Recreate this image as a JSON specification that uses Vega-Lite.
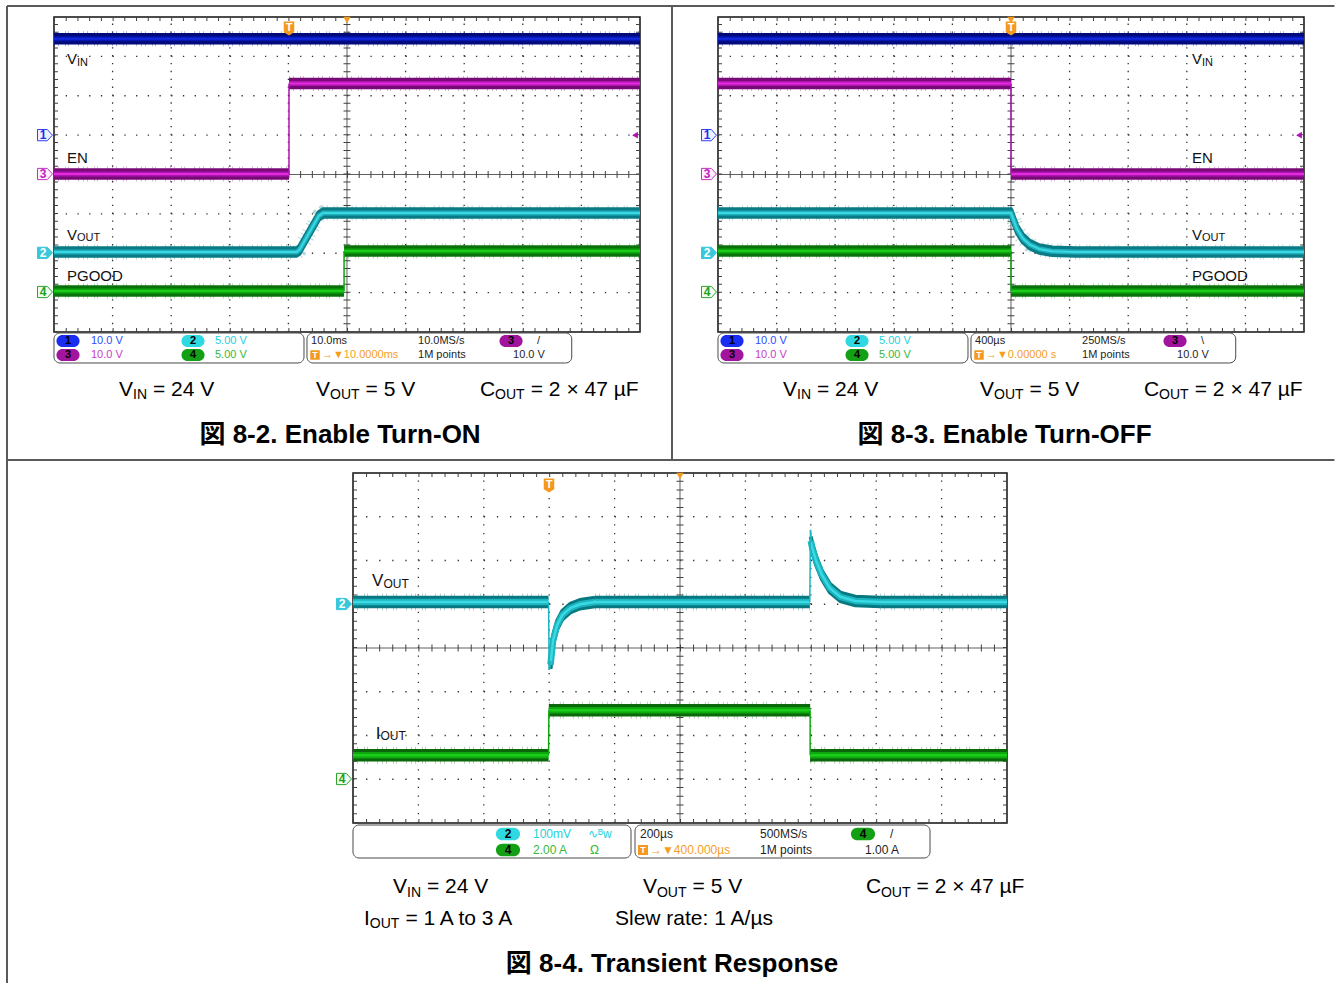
{
"$schema":"https://vega.github.io/schema/vega-lite/v6.json",
"width":1336,"height":983,"autosize":{"type":"none"},"padding":0,"background":"white",
"config":{"view":{"stroke":null},"axis":{"disable":true},"legend":{"disable":true}},
"datasets":{
"bo":[{"x":-0.802,"x2":21.85,"y":4.279,"y2":4.279},{"x":-0.802,"x2":-0.802,"y":4.279,"y2":-20.6},{"x":10.546,"x2":10.546,"y":4.279,"y2":-7.251},{"x":-0.802,"x2":21.85,"y":-7.251,"y2":-7.251}],
"frame":[{"x":0,"x2":10,"y":-4,"y2":4}],
"gv":[{"x":1,"x2":1,"y":-4,"y2":4},{"x":2,"x2":2,"y":-4,"y2":4},{"x":3,"x2":3,"y":-4,"y2":4},{"x":4,"x2":4,"y":-4,"y2":4},{"x":6,"x2":6,"y":-4,"y2":4},{"x":7,"x2":7,"y":-4,"y2":4},{"x":8,"x2":8,"y":-4,"y2":4},{"x":9,"x2":9,"y":-4,"y2":4}],
"gh":[{"x":0,"x2":10,"y":-3,"y2":-3},{"x":0,"x2":10,"y":-2,"y2":-2},{"x":0,"x2":10,"y":-1,"y2":-1},{"x":0,"x2":10,"y":1,"y2":1},{"x":0,"x2":10,"y":2,"y2":2},{"x":0,"x2":10,"y":3,"y2":3}],
"cv":[{"x":5,"x2":5,"y":-4,"y2":4}],
"chz":[{"x":0,"x2":10,"y":0,"y2":0}],
"ehA":[{"x":0,"x2":10,"y":3.9492,"y2":3.9492},{"x":0,"x2":10,"y":-3.9492,"y2":-3.9492}],
"evA":[{"x":0.0341,"x2":0.0341,"y":-4,"y2":4},{"x":9.9659,"x2":9.9659,"y":-4,"y2":4}],
"ehB":[{"x":0,"x2":10,"y":3.9543,"y2":3.9543},{"x":0,"x2":10,"y":-3.9543,"y2":-3.9543}],
"evB":[{"x":0.0306,"x2":0.0306,"y":-4,"y2":4},{"x":9.9694,"x2":9.9694,"y":-4,"y2":4}],
"tr1":[{"s":"vin","c":"VIN","x":0,"y":3.45},{"s":"vin","c":"VIN","x":10,"y":3.45},
{"s":"en1","c":"EN","x":0,"y":0.01},{"s":"en1","c":"EN","x":4.01,"y":0.01},
{"s":"en2","c":"EN","x":4.01,"y":2.31},{"s":"en2","c":"EN","x":10,"y":2.31},
{"s":"vo","c":"VOUT","x":0,"y":-1.97},{"s":"vo","c":"VOUT","x":4.14,"y":-1.97},{"s":"vo","c":"VOUT","x":4.19,"y":-1.91},{"s":"vo","c":"VOUT","x":4.52,"y":-1.05},{"s":"vo","c":"VOUT","x":4.59,"y":-0.98},{"s":"vo","c":"VOUT","x":10,"y":-0.98},
{"s":"pg1","c":"PGOOD","x":0,"y":-2.96},{"s":"pg1","c":"PGOOD","x":4.95,"y":-2.96},
{"s":"pg2","c":"PGOOD","x":4.95,"y":-1.94},{"s":"pg2","c":"PGOOD","x":10,"y":-1.94}],
"ed1":[{"c":"EN","x":4.01,"x2":4.01,"y":0.01,"y2":2.31},{"c":"PGOOD","x":4.95,"x2":4.95,"y":-2.96,"y2":-1.94}],
"tr2":[{"s":"vin","c":"VIN","x":0,"y":3.45},{"s":"vin","c":"VIN","x":10,"y":3.45},
{"s":"en1","c":"EN","x":0,"y":2.31},{"s":"en1","c":"EN","x":5.0,"y":2.31},
{"s":"en2","c":"EN","x":5.0,"y":0.01},{"s":"en2","c":"EN","x":10,"y":0.01},
{"s":"vo","c":"VOUT","x":0,"y":-0.98},{"s":"vo","c":"VOUT","x":5.0,"y":-0.98},{"s":"vo","c":"VOUT","x":5.03,"y":-1.1},{"s":"vo","c":"VOUT","x":5.1,"y":-1.38},{"s":"vo","c":"VOUT","x":5.2,"y":-1.62},{"s":"vo","c":"VOUT","x":5.32,"y":-1.78},{"s":"vo","c":"VOUT","x":5.48,"y":-1.89},{"s":"vo","c":"VOUT","x":5.7,"y":-1.95},{"s":"vo","c":"VOUT","x":6.1,"y":-1.97},{"s":"vo","c":"VOUT","x":10,"y":-1.97},
{"s":"pg1","c":"PGOOD","x":0,"y":-1.94},{"s":"pg1","c":"PGOOD","x":5.0,"y":-1.94},
{"s":"pg2","c":"PGOOD","x":5.0,"y":-2.96},{"s":"pg2","c":"PGOOD","x":10,"y":-2.96}],
"ed2":[{"c":"EN","x":5.0,"x2":5.0,"y":2.31,"y2":0.01},{"c":"PGOOD","x":5.0,"x2":5.0,"y":-1.94,"y2":-2.96}],
"tr3":[{"s":"v1","c":"VOUT","x":0,"y":1.05},{"s":"v1","c":"VOUT","x":2.99,"y":1.05},
{"s":"v2","c":"VOUT","x":3.02,"y":-0.38},{"s":"v2","c":"VOUT","x":3.06,"y":0.18},{"s":"v2","c":"VOUT","x":3.12,"y":0.52},{"s":"v2","c":"VOUT","x":3.2,"y":0.75},{"s":"v2","c":"VOUT","x":3.32,"y":0.91},{"s":"v2","c":"VOUT","x":3.47,"y":1.0},{"s":"v2","c":"VOUT","x":3.7,"y":1.05},{"s":"v4","c":"VOUT","x":3.7,"y":1.05},{"s":"v4","c":"VOUT","x":6.985,"y":1.05},
{"s":"v3","c":"VOUT","x":7.0,"y":2.45},{"s":"v3","c":"VOUT","x":7.02,"y":2.3},{"s":"v3","c":"VOUT","x":7.08,"y":2.0},{"s":"v3","c":"VOUT","x":7.17,"y":1.67},{"s":"v3","c":"VOUT","x":7.29,"y":1.37},{"s":"v3","c":"VOUT","x":7.45,"y":1.17},{"s":"v3","c":"VOUT","x":7.68,"y":1.075},{"s":"v3","c":"VOUT","x":8.06,"y":1.05},{"s":"v5","c":"VOUT","x":8.06,"y":1.05},{"s":"v5","c":"VOUT","x":10,"y":1.05},
{"s":"i1","c":"IOUT","x":0,"y":-2.45},{"s":"i1","c":"IOUT","x":2.99,"y":-2.45},
{"s":"i2","c":"IOUT","x":2.995,"y":-1.42},{"s":"i2","c":"IOUT","x":6.99,"y":-1.42},
{"s":"i3","c":"IOUT","x":6.99,"y":-2.45},{"s":"i3","c":"IOUT","x":10,"y":-2.45}],
"ed3":[{"c":"VOUT","x":2.99,"x2":3.0,"y":1.05,"y2":-0.5},{"c":"VOUT","x":3.0,"x2":3.03,"y":-0.5,"y2":-0.3},{"c":"VOUT","x":6.985,"x2":6.995,"y":1.05,"y2":2.7},{"c":"VOUT","x":6.995,"x2":7.01,"y":2.7,"y2":2.42},{"c":"IOUT","x":2.99,"x2":2.995,"y":-2.45,"y2":-1.42},{"c":"IOUT","x":6.99,"x2":6.99,"y":-1.42,"y2":-2.45}],
"lb1":[{"x":0.222,"y":2.806,"t":"V"},{"x":0.222,"y":0.292,"t":"EN"},{"x":0.222,"y":-1.651,"t":"V"},{"x":0.222,"y":-2.717,"t":"PGOOD"}],
"ls1":[{"x":0.392,"y":2.755,"t":"IN"},{"x":0.392,"y":-1.69,"t":"OUT"}],
"lb2":[{"x":8.089,"y":2.806,"t":"V"},{"x":8.089,"y":0.292,"t":"EN"},{"x":8.089,"y":-1.651,"t":"V"},{"x":8.089,"y":-2.717,"t":"PGOOD"}],
"ls2":[{"x":8.259,"y":2.755,"t":"IN"},{"x":8.259,"y":-1.69,"t":"OUT"}],
"lb3":[{"x":0.291,"y":1.406,"t":"V"},{"x":0.347,"y":-2.069,"t":"I"}],
"ls3":[{"x":0.466,"y":1.371,"t":"OUT"},{"x":0.42,"y":-2.103,"t":"OUT"}],
"mkA":[{"x":0,"y":1,"n":"1","c":"VIN"},{"x":0,"y":0.013,"n":"3","c":"EN"},{"x":0,"y":-1.99,"n":"2","c":"VOUT"},{"x":0,"y":-2.984,"n":"4","c":"PGOOD"}],
"mk3":[{"x":0,"y":1.006,"n":"2","c":"VOUT"},{"x":0,"y":-2.994,"n":"4","c":"IOUT"}],
"rt":[{"x":10,"y":1}],
"tg1":[{"x":4.01,"y":4}],"tg2":[{"x":5,"y":4}],"tg3":[{"x":2.997,"y":4}],"tc":[{"x":5,"y":4}],
"bxA":[{"x":0,"x2":4.266,"y":-4.025,"y2":-4.787},{"x":4.317,"x2":8.835,"y":-4.025,"y2":-4.787}],
"bx3":[{"x":0,"x2":4.251,"y":-4.046,"y2":-4.8},{"x":4.312,"x2":8.823,"y":-4.046,"y2":-4.8}],
"bgA":[{"x":0.239,"y":-4.229,"n":"1","c":"VIN"},{"x":2.372,"y":-4.229,"n":"2","c":"VOUT"},{"x":0.239,"y":-4.584,"n":"3","c":"EN"},{"x":2.372,"y":-4.584,"n":"4","c":"PGOOD"},{"x":7.799,"y":-4.229,"n":"3","c":"EN"}],
"bg3":[{"x":2.37,"y":-4.251,"n":"2","c":"VOUT"},{"x":2.37,"y":-4.617,"n":"4","c":"IOUT"},{"x":7.798,"y":-4.251,"n":"4","c":"IOUT"}],
"it1":[{"x":0.631,"y":-4.229,"t":"10.0 V","c":"VIN"},{"x":2.747,"y":-4.229,"t":"5.00 V","c":"VOUT"},{"x":0.631,"y":-4.584,"t":"10.0 V","c":"EN"},{"x":2.747,"y":-4.584,"t":"5.00 V","c":"PGOOD"},{"x":4.386,"y":-4.229,"t":"10.0ms","c":"K"},{"x":6.212,"y":-4.229,"t":"10.0MS/s","c":"K"},{"x":8.242,"y":-4.229,"t":"/","c":"K"},{"x":4.573,"y":-4.584,"t":"→▼10.0000ms","c":"T"},{"x":6.212,"y":-4.584,"t":"1M points","c":"K"},{"x":7.833,"y":-4.584,"t":"10.0 V","c":"K"}],
"it2":[{"x":0.631,"y":-4.229,"t":"10.0 V","c":"VIN"},{"x":2.747,"y":-4.229,"t":"5.00 V","c":"VOUT"},{"x":0.631,"y":-4.584,"t":"10.0 V","c":"EN"},{"x":2.747,"y":-4.584,"t":"5.00 V","c":"PGOOD"},{"x":4.386,"y":-4.229,"t":"400µs","c":"K"},{"x":6.212,"y":-4.229,"t":"250MS/s","c":"K"},{"x":8.242,"y":-4.229,"t":"\\","c":"K"},{"x":4.573,"y":-4.584,"t":"→▼0.00000 s","c":"T"},{"x":6.212,"y":-4.584,"t":"1M points","c":"K"},{"x":7.833,"y":-4.584,"t":"10.0 V","c":"K"}],
"it3":[{"x":2.752,"y":-4.251,"t":"100mV","c":"VOUT"},{"x":3.593,"y":-4.251,"t":"∿ᴮw","c":"VOUT"},{"x":2.752,"y":-4.617,"t":"2.00 A","c":"IOUT"},{"x":3.624,"y":-4.617,"t":"Ω","c":"IOUT"},{"x":4.388,"y":-4.251,"t":"200µs","c":"K"},{"x":6.223,"y":-4.251,"t":"500MS/s","c":"K"},{"x":8.211,"y":-4.251,"t":"/","c":"K"},{"x":4.541,"y":-4.617,"t":"→▼400.000µs","c":"T"},{"x":6.223,"y":-4.617,"t":"1M points","c":"K"},{"x":7.829,"y":-4.617,"t":"1.00 A","c":"K"}],
"ibA":[{"x":4.454,"y":-4.584}],"ib3":[{"x":4.434,"y":-4.617}],
"capA":[{"x":1.109,"y":-5.625,"t":"V"},{"x":1.689,"y":-5.625,"t":"= 24 V"},{"x":4.471,"y":-5.625,"t":"V"},{"x":5.317,"y":-5.625,"t":"= 5 V"},{"x":7.27,"y":-5.625,"t":"C"},{"x":8.136,"y":-5.625,"t":"= 2 × 47 µF"}],
"csA":[{"x":1.348,"y":-5.714,"t":"IN"},{"x":4.71,"y":-5.714,"t":"OUT"},{"x":7.526,"y":-5.714,"t":"OUT"}],
"bd1":[{"x":4.881,"y":-6.819,"t":"図 8-2. Enable Turn-ON"}],
"bd2":[{"x":4.889,"y":-6.819,"t":"図 8-3. Enable Turn-OFF"}],
"cap3":[{"x":0.612,"y":-5.6,"t":"V"},{"x":1.131,"y":-5.6,"t":"= 24 V"},{"x":4.434,"y":-5.6,"t":"V"},{"x":5.193,"y":-5.6,"t":"= 5 V"},{"x":7.844,"y":-5.6,"t":"C"},{"x":8.618,"y":-5.6,"t":"= 2 × 47 µF"},{"x":0.168,"y":-6.331,"t":"I"},{"x":0.801,"y":-6.331,"t":"= 1 A to 3 A"},{"x":4.006,"y":-6.331,"t":"Slew rate: 1 A/µs"}],
"cs3":[{"x":0.826,"y":-5.68,"t":"IN"},{"x":4.648,"y":-5.68,"t":"OUT"},{"x":8.073,"y":-5.68,"t":"OUT"},{"x":0.257,"y":-6.411,"t":"OUT"}],
"bd3":[{"x":4.878,"y":-7.406,"t":"図 8-4. Transient Response"}]
},
"resolve":{"scale":{"x":"independent","y":"independent","color":"independent","fill":"independent","stroke":"independent"}},
"layer":[
{
"encoding":{"x":{"field":"x","type":"quantitative","axis":null,"scale":{"domain":[-0.9215,21.87713],"nice":false,"zero":false}},
"y":{"field":"y","type":"quantitative","axis":null,"scale":{"domain":[-20.53333,4.43175],"nice":false,"zero":false}}},
"resolve":{"scale":{"color":"independent","fill":"independent","stroke":"independent"}},
"layer":[
{"data":{"name":"bo"},"mark":{"type":"rule","color":"#5a5a5a","strokeWidth":2},"encoding":{"x2":{"field":"x2"},"y2":{"field":"y2"}}},
{"data":{"name":"frame"},"mark":{"type":"rect","filled":false,"color":"#111111","strokeWidth":1.5},"encoding":{"x2":{"field":"x2"},"y2":{"field":"y2"}}},
{"data":{"name":"gv"},"mark":{"type":"rule","color":"#303030","strokeWidth":1.3,"strokeDash":[1.3,6.575]},"encoding":{"x2":{"field":"x2"},"y2":{"field":"y2"}}},
{"data":{"name":"gh"},"mark":{"type":"rule","color":"#303030","strokeWidth":1.3,"strokeDash":[1.3,10.42]},"encoding":{"x2":{"field":"x2"},"y2":{"field":"y2"}}},
{"data":{"name":"cv"},"mark":{"type":"rule","color":"#606060","strokeWidth":1},"encoding":{"x2":{"field":"x2"},"y2":{"field":"y2"}}},
{"data":{"name":"chz"},"mark":{"type":"rule","color":"#606060","strokeWidth":1},"encoding":{"x2":{"field":"x2"},"y2":{"field":"y2"}}},
{"data":{"name":"cv"},"mark":{"type":"rule","color":"#404040","strokeWidth":7,"strokeDash":[1,6.875]},"encoding":{"x2":{"field":"x2"},"y2":{"field":"y2"}}},
{"data":{"name":"chz"},"mark":{"type":"rule","color":"#404040","strokeWidth":7,"strokeDash":[1,10.72]},"encoding":{"x2":{"field":"x2"},"y2":{"field":"y2"}}},
{"data":{"name":"ehA"},"mark":{"type":"rule","color":"#404040","strokeWidth":4,"strokeDash":[1,10.72]},"encoding":{"x2":{"field":"x2"},"y2":{"field":"y2"}}},
{"data":{"name":"evA"},"mark":{"type":"rule","color":"#404040","strokeWidth":4,"strokeDash":[1,6.875]},"encoding":{"x2":{"field":"x2"},"y2":{"field":"y2"}}},
{"data":{"name":"tr1"},"mark":{"type":"line","strokeWidth":15,"strokeCap":"butt","strokeDash":[1,3,1,6,1,2,1,9,1,4],"opacity":0.3},"encoding":{"detail":{"field":"s"},"color":{"field":"c","type":"nominal","legend":null,"scale":{"domain":["VIN","EN","VOUT","PGOOD","IOUT"],"range":["#000a78","#780a78","#0a7a84","#0a720a","#0a680a"]}}}},
{"data":{"name":"tr1"},"mark":{"type":"line","strokeWidth":4.5,"strokeCap":"butt","strokeJoin":"round","yOffset":-3.5},"encoding":{"detail":{"field":"s"},"color":{"field":"c","type":"nominal","legend":null,"scale":{"domain":["VIN","EN","VOUT","PGOOD","IOUT"],"range":["#000a78","#780a78","#0a7a84","#0a720a","#0a680a"]}}}},
{"data":{"name":"tr1"},"mark":{"type":"line","strokeWidth":4.5,"strokeCap":"butt","strokeJoin":"round","yOffset":3.5},"encoding":{"detail":{"field":"s"},"color":{"field":"c","type":"nominal","legend":null,"scale":{"domain":["VIN","EN","VOUT","PGOOD","IOUT"],"range":["#000a78","#780a78","#0a7a84","#0a720a","#0a680a"]}}}},
{"data":{"name":"tr1"},"mark":{"type":"line","strokeWidth":5,"strokeCap":"butt","strokeJoin":"round"},"encoding":{"detail":{"field":"s"},"color":{"field":"c","type":"nominal","legend":null,"scale":{"domain":["VIN","EN","VOUT","PGOOD","IOUT"],"range":["#0616b0","#b014ae","#1eb0bc","#0ea80e","#0ea80e"]}}}},
{"data":{"name":"tr1"},"mark":{"type":"line","strokeWidth":2,"strokeCap":"butt","strokeJoin":"round"},"encoding":{"detail":{"field":"s"},"color":{"field":"c","type":"nominal","legend":null,"scale":{"domain":["VIN","EN","VOUT","PGOOD","IOUT"],"range":["#1428e0","#e22ade","#3ad8e2","#1ccc1c","#1ccc1c"]}}}},
{"data":{"name":"ed1"},"mark":{"type":"rule","strokeWidth":1.5},"encoding":{"x2":{"field":"x2"},"y2":{"field":"y2"},"color":{"field":"c","type":"nominal","legend":null,"scale":{"domain":["VIN","EN","VOUT","PGOOD","IOUT"],"range":["#0616b0","#b014ae","#1eb0bc","#0ea80e","#0ea80e"]}}}},
{"data":{"name":"lb1"},"mark":{"type":"text","font":"Liberation Sans","fontSize":15,"align":"left","baseline":"alphabetic","color":"#111111"},"encoding":{"text":{"field":"t"}}},
{"data":{"name":"ls1"},"mark":{"type":"text","font":"Liberation Sans","fontSize":11,"align":"left","baseline":"alphabetic","color":"#111111"},"encoding":{"text":{"field":"t"}}},
{"data":{"name":"mkA"},"mark":{"type":"point","shape":"M-1,-0.75L0.3,-0.75L1,0L0.3,0.75L-1,0.75Z","size":225,"filled":true,"opacity":1,"strokeWidth":1,"xOffset":-9},"encoding":{"fill":{"field":"c","type":"nominal","legend":null,"scale":{"domain":["VIN","EN","VOUT","PGOOD","IOUT"],"range":["#eef0ff","#fdf0fd","#38c8da","#effcef","#effcef"]}},"stroke":{"field":"c","type":"nominal","legend":null,"scale":{"domain":["VIN","EN","VOUT","PGOOD","IOUT"],"range":["#3040f0","#c030c0","#38c8da","#2ca02c","#2ca02c"]}}}},
{"data":{"name":"mkA"},"mark":{"type":"text","font":"Liberation Sans","fontSize":12,"fontWeight":"bold","align":"center","baseline":"middle","dx":-11},"encoding":{"text":{"field":"n"},"color":{"field":"c","type":"nominal","legend":null,"scale":{"domain":["VIN","EN","VOUT","PGOOD","IOUT"],"range":["#2030ee","#c020c0","#ffffff","#20a020","#20a020"]}}}},
{"data":{"name":"rt"},"mark":{"type":"point","shape":"triangle-left","size":45,"filled":true,"opacity":1,"color":"#b010b0","xOffset":-5}},
{"data":{"name":"tg1"},"mark":{"type":"point","shape":"M-0.75,-1L0.75,-1L0.75,0.55L0,1L-0.75,0.55Z","size":196,"filled":true,"opacity":1,"color":"#f39a1e","yOffset":11.5}},
{"data":{"name":"tg1"},"mark":{"type":"text","text":"T","font":"Liberation Sans","fontSize":11,"fontWeight":"bold","color":"#ffffff","align":"center","baseline":"middle","dy":10.5}},
{"data":{"name":"tc"},"mark":{"type":"point","shape":"triangle-down","size":55,"filled":true,"opacity":1,"color":"#f39a1e","yOffset":3}},
{"data":{"name":"bxA"},"mark":{"type":"rect","filled":false,"color":"#4a4a4a","strokeWidth":1,"cornerRadius":6},"encoding":{"x2":{"field":"x2"},"y2":{"field":"y2"}}},
{"data":{"name":"bgA"},"mark":{"type":"point","shape":"M-0.5,-0.55L0.5,-0.55A0.55,0.55,0,0,1,0.5,0.55L-0.5,0.55A0.55,0.55,0,0,1,-0.5,-0.55Z","size":484,"filled":true,"opacity":1},"encoding":{"color":{"field":"c","type":"nominal","legend":null,"scale":{"domain":["VIN","EN","VOUT","PGOOD","IOUT"],"range":["#1a2ef2","#a0149e","#30d8e2","#14a014","#14a014"]}}}},
{"data":{"name":"bgA"},"mark":{"type":"text","font":"Liberation Sans","fontSize":11,"fontWeight":"bold","color":"#000000","align":"center","baseline":"middle"},"encoding":{"text":{"field":"n"}}},
{"data":{"name":"it1"},"mark":{"type":"text","font":"Liberation Sans","fontSize":11,"align":"left","baseline":"middle"},"encoding":{"text":{"field":"t"},"color":{"field":"c","type":"nominal","legend":null,"scale":{"domain":["VIN","EN","VOUT","PGOOD","IOUT","K","T"],"range":["#2e4cff","#c83cc8","#22d2dc","#38b838","#38b838","#1e1e1e","#f59e1c"]}}}},
{"data":{"name":"ibA"},"mark":{"type":"point","shape":"square","size":90,"filled":true,"opacity":1,"color":"#f39a1e"}},
{"data":{"name":"ibA"},"mark":{"type":"text","text":"T","font":"Liberation Sans","fontSize":9,"fontWeight":"bold","color":"#ffffff","align":"center","baseline":"middle"}},
{"data":{"name":"capA"},"mark":{"type":"text","font":"Liberation Sans","fontSize":21,"align":"left","baseline":"alphabetic","color":"#000000"},"encoding":{"text":{"field":"t"}}},
{"data":{"name":"csA"},"mark":{"type":"text","font":"Liberation Sans","fontSize":14,"align":"left","baseline":"alphabetic","color":"#000000"},"encoding":{"text":{"field":"t"}}},
{"data":{"name":"bd1"},"mark":{"type":"text","font":"Liberation Sans, Noto Sans CJK JP","fontSize":26,"fontWeight":"bold","align":"center","baseline":"alphabetic","color":"#000000"},"encoding":{"text":{"field":"t"}}}
]
},
{
"encoding":{"x":{"field":"x","type":"quantitative","axis":null,"scale":{"domain":[-12.25256,10.54608],"nice":false,"zero":false}},
"y":{"field":"y","type":"quantitative","axis":null,"scale":{"domain":[-20.53333,4.43175],"nice":false,"zero":false}}},
"resolve":{"scale":{"color":"independent","fill":"independent","stroke":"independent"}},
"layer":[
{"data":{"name":"frame"},"mark":{"type":"rect","filled":false,"color":"#111111","strokeWidth":1.5},"encoding":{"x2":{"field":"x2"},"y2":{"field":"y2"}}},
{"data":{"name":"gv"},"mark":{"type":"rule","color":"#303030","strokeWidth":1.3,"strokeDash":[1.3,6.575]},"encoding":{"x2":{"field":"x2"},"y2":{"field":"y2"}}},
{"data":{"name":"gh"},"mark":{"type":"rule","color":"#303030","strokeWidth":1.3,"strokeDash":[1.3,10.42]},"encoding":{"x2":{"field":"x2"},"y2":{"field":"y2"}}},
{"data":{"name":"cv"},"mark":{"type":"rule","color":"#606060","strokeWidth":1},"encoding":{"x2":{"field":"x2"},"y2":{"field":"y2"}}},
{"data":{"name":"chz"},"mark":{"type":"rule","color":"#606060","strokeWidth":1},"encoding":{"x2":{"field":"x2"},"y2":{"field":"y2"}}},
{"data":{"name":"cv"},"mark":{"type":"rule","color":"#404040","strokeWidth":7,"strokeDash":[1,6.875]},"encoding":{"x2":{"field":"x2"},"y2":{"field":"y2"}}},
{"data":{"name":"chz"},"mark":{"type":"rule","color":"#404040","strokeWidth":7,"strokeDash":[1,10.72]},"encoding":{"x2":{"field":"x2"},"y2":{"field":"y2"}}},
{"data":{"name":"ehA"},"mark":{"type":"rule","color":"#404040","strokeWidth":4,"strokeDash":[1,10.72]},"encoding":{"x2":{"field":"x2"},"y2":{"field":"y2"}}},
{"data":{"name":"evA"},"mark":{"type":"rule","color":"#404040","strokeWidth":4,"strokeDash":[1,6.875]},"encoding":{"x2":{"field":"x2"},"y2":{"field":"y2"}}},
{"data":{"name":"tr2"},"mark":{"type":"line","strokeWidth":15,"strokeCap":"butt","strokeDash":[1,3,1,6,1,2,1,9,1,4],"opacity":0.3},"encoding":{"detail":{"field":"s"},"color":{"field":"c","type":"nominal","legend":null,"scale":{"domain":["VIN","EN","VOUT","PGOOD","IOUT"],"range":["#000a78","#780a78","#0a7a84","#0a720a","#0a680a"]}}}},
{"data":{"name":"tr2"},"mark":{"type":"line","strokeWidth":4.5,"strokeCap":"butt","strokeJoin":"round","yOffset":-3.5},"encoding":{"detail":{"field":"s"},"color":{"field":"c","type":"nominal","legend":null,"scale":{"domain":["VIN","EN","VOUT","PGOOD","IOUT"],"range":["#000a78","#780a78","#0a7a84","#0a720a","#0a680a"]}}}},
{"data":{"name":"tr2"},"mark":{"type":"line","strokeWidth":4.5,"strokeCap":"butt","strokeJoin":"round","yOffset":3.5},"encoding":{"detail":{"field":"s"},"color":{"field":"c","type":"nominal","legend":null,"scale":{"domain":["VIN","EN","VOUT","PGOOD","IOUT"],"range":["#000a78","#780a78","#0a7a84","#0a720a","#0a680a"]}}}},
{"data":{"name":"tr2"},"mark":{"type":"line","strokeWidth":5,"strokeCap":"butt","strokeJoin":"round"},"encoding":{"detail":{"field":"s"},"color":{"field":"c","type":"nominal","legend":null,"scale":{"domain":["VIN","EN","VOUT","PGOOD","IOUT"],"range":["#0616b0","#b014ae","#1eb0bc","#0ea80e","#0ea80e"]}}}},
{"data":{"name":"tr2"},"mark":{"type":"line","strokeWidth":2,"strokeCap":"butt","strokeJoin":"round"},"encoding":{"detail":{"field":"s"},"color":{"field":"c","type":"nominal","legend":null,"scale":{"domain":["VIN","EN","VOUT","PGOOD","IOUT"],"range":["#1428e0","#e22ade","#3ad8e2","#1ccc1c","#1ccc1c"]}}}},
{"data":{"name":"ed2"},"mark":{"type":"rule","strokeWidth":1.5},"encoding":{"x2":{"field":"x2"},"y2":{"field":"y2"},"color":{"field":"c","type":"nominal","legend":null,"scale":{"domain":["VIN","EN","VOUT","PGOOD","IOUT"],"range":["#0616b0","#b014ae","#1eb0bc","#0ea80e","#0ea80e"]}}}},
{"data":{"name":"lb2"},"mark":{"type":"text","font":"Liberation Sans","fontSize":15,"align":"left","baseline":"alphabetic","color":"#111111"},"encoding":{"text":{"field":"t"}}},
{"data":{"name":"ls2"},"mark":{"type":"text","font":"Liberation Sans","fontSize":11,"align":"left","baseline":"alphabetic","color":"#111111"},"encoding":{"text":{"field":"t"}}},
{"data":{"name":"mkA"},"mark":{"type":"point","shape":"M-1,-0.75L0.3,-0.75L1,0L0.3,0.75L-1,0.75Z","size":225,"filled":true,"opacity":1,"strokeWidth":1,"xOffset":-9},"encoding":{"fill":{"field":"c","type":"nominal","legend":null,"scale":{"domain":["VIN","EN","VOUT","PGOOD","IOUT"],"range":["#eef0ff","#fdf0fd","#38c8da","#effcef","#effcef"]}},"stroke":{"field":"c","type":"nominal","legend":null,"scale":{"domain":["VIN","EN","VOUT","PGOOD","IOUT"],"range":["#3040f0","#c030c0","#38c8da","#2ca02c","#2ca02c"]}}}},
{"data":{"name":"mkA"},"mark":{"type":"text","font":"Liberation Sans","fontSize":12,"fontWeight":"bold","align":"center","baseline":"middle","dx":-11},"encoding":{"text":{"field":"n"},"color":{"field":"c","type":"nominal","legend":null,"scale":{"domain":["VIN","EN","VOUT","PGOOD","IOUT"],"range":["#2030ee","#c020c0","#ffffff","#20a020","#20a020"]}}}},
{"data":{"name":"rt"},"mark":{"type":"point","shape":"triangle-left","size":45,"filled":true,"opacity":1,"color":"#b010b0","xOffset":-5}},
{"data":{"name":"tc"},"mark":{"type":"point","shape":"triangle-down","size":55,"filled":true,"opacity":1,"color":"#f39a1e","yOffset":3}},
{"data":{"name":"tg2"},"mark":{"type":"point","shape":"M-0.75,-1L0.75,-1L0.75,0.55L0,1L-0.75,0.55Z","size":196,"filled":true,"opacity":1,"color":"#f39a1e","yOffset":11.5}},
{"data":{"name":"tg2"},"mark":{"type":"text","text":"T","font":"Liberation Sans","fontSize":11,"fontWeight":"bold","color":"#ffffff","align":"center","baseline":"middle","dy":10.5}},
{"data":{"name":"bxA"},"mark":{"type":"rect","filled":false,"color":"#4a4a4a","strokeWidth":1,"cornerRadius":6},"encoding":{"x2":{"field":"x2"},"y2":{"field":"y2"}}},
{"data":{"name":"bgA"},"mark":{"type":"point","shape":"M-0.5,-0.55L0.5,-0.55A0.55,0.55,0,0,1,0.5,0.55L-0.5,0.55A0.55,0.55,0,0,1,-0.5,-0.55Z","size":484,"filled":true,"opacity":1},"encoding":{"color":{"field":"c","type":"nominal","legend":null,"scale":{"domain":["VIN","EN","VOUT","PGOOD","IOUT"],"range":["#1a2ef2","#a0149e","#30d8e2","#14a014","#14a014"]}}}},
{"data":{"name":"bgA"},"mark":{"type":"text","font":"Liberation Sans","fontSize":11,"fontWeight":"bold","color":"#000000","align":"center","baseline":"middle"},"encoding":{"text":{"field":"n"}}},
{"data":{"name":"it2"},"mark":{"type":"text","font":"Liberation Sans","fontSize":11,"align":"left","baseline":"middle"},"encoding":{"text":{"field":"t"},"color":{"field":"c","type":"nominal","legend":null,"scale":{"domain":["VIN","EN","VOUT","PGOOD","IOUT","K","T"],"range":["#2e4cff","#c83cc8","#22d2dc","#38b838","#38b838","#1e1e1e","#f59e1c"]}}}},
{"data":{"name":"ibA"},"mark":{"type":"point","shape":"square","size":90,"filled":true,"opacity":1,"color":"#f39a1e"}},
{"data":{"name":"ibA"},"mark":{"type":"text","text":"T","font":"Liberation Sans","fontSize":9,"fontWeight":"bold","color":"#ffffff","align":"center","baseline":"middle"}},
{"data":{"name":"capA"},"mark":{"type":"text","font":"Liberation Sans","fontSize":21,"align":"left","baseline":"alphabetic","color":"#000000"},"encoding":{"text":{"field":"t"}}},
{"data":{"name":"csA"},"mark":{"type":"text","font":"Liberation Sans","fontSize":14,"align":"left","baseline":"alphabetic","color":"#000000"},"encoding":{"text":{"field":"t"}}},
{"data":{"name":"bd2"},"mark":{"type":"text","font":"Liberation Sans, Noto Sans CJK JP","fontSize":26,"fontWeight":"bold","align":"center","baseline":"alphabetic","color":"#000000"},"encoding":{"text":{"field":"t"}}}
]
},
{
"encoding":{"x":{"field":"x","type":"quantitative","axis":null,"scale":{"domain":[-5.39755,15.03058],"nice":false,"zero":false}},
"y":{"field":"y","type":"quantitative","axis":null,"scale":{"domain":[-7.65714,14.81143],"nice":false,"zero":false}}},
"resolve":{"scale":{"color":"independent","fill":"independent","stroke":"independent"}},
"layer":[
{"data":{"name":"frame"},"mark":{"type":"rect","filled":false,"color":"#111111","strokeWidth":1.5},"encoding":{"x2":{"field":"x2"},"y2":{"field":"y2"}}},
{"data":{"name":"gv"},"mark":{"type":"rule","color":"#303030","strokeWidth":1.3,"strokeDash":[1.3,7.45]},"encoding":{"x2":{"field":"x2"},"y2":{"field":"y2"}}},
{"data":{"name":"gh"},"mark":{"type":"rule","color":"#303030","strokeWidth":1.3,"strokeDash":[1.3,11.78]},"encoding":{"x2":{"field":"x2"},"y2":{"field":"y2"}}},
{"data":{"name":"cv"},"mark":{"type":"rule","color":"#606060","strokeWidth":1},"encoding":{"x2":{"field":"x2"},"y2":{"field":"y2"}}},
{"data":{"name":"chz"},"mark":{"type":"rule","color":"#606060","strokeWidth":1},"encoding":{"x2":{"field":"x2"},"y2":{"field":"y2"}}},
{"data":{"name":"cv"},"mark":{"type":"rule","color":"#404040","strokeWidth":7,"strokeDash":[1,7.75]},"encoding":{"x2":{"field":"x2"},"y2":{"field":"y2"}}},
{"data":{"name":"chz"},"mark":{"type":"rule","color":"#404040","strokeWidth":7,"strokeDash":[1,12.08]},"encoding":{"x2":{"field":"x2"},"y2":{"field":"y2"}}},
{"data":{"name":"ehB"},"mark":{"type":"rule","color":"#404040","strokeWidth":4,"strokeDash":[1,12.08]},"encoding":{"x2":{"field":"x2"},"y2":{"field":"y2"}}},
{"data":{"name":"evB"},"mark":{"type":"rule","color":"#404040","strokeWidth":4,"strokeDash":[1,7.75]},"encoding":{"x2":{"field":"x2"},"y2":{"field":"y2"}}},
{"data":{"name":"tr3"},"transform":[{"filter":"datum.s != 'v2' && datum.s != 'v3'"}],"mark":{"type":"line","strokeWidth":17,"strokeCap":"butt","strokeDash":[1,3,1,6,1,2,1,9,1,4],"opacity":0.3},"encoding":{"detail":{"field":"s"},"color":{"field":"c","type":"nominal","legend":null,"scale":{"domain":["VIN","EN","VOUT","PGOOD","IOUT"],"range":["#000a78","#780a78","#066a72","#0a720a","#0a680a"]}}}},
{"data":{"name":"tr3"},"mark":{"type":"line","strokeWidth":4,"strokeCap":"butt","strokeJoin":"round","yOffset":-4.25},"encoding":{"detail":{"field":"s"},"color":{"field":"c","type":"nominal","legend":null,"scale":{"domain":["VIN","EN","VOUT","PGOOD","IOUT"],"range":["#000a78","#780a78","#087880","#0a720a","#0a680a"]}}}},
{"data":{"name":"tr3"},"mark":{"type":"line","strokeWidth":4,"strokeCap":"butt","strokeJoin":"round","yOffset":4.25},"encoding":{"detail":{"field":"s"},"color":{"field":"c","type":"nominal","legend":null,"scale":{"domain":["VIN","EN","VOUT","PGOOD","IOUT"],"range":["#000a78","#780a78","#087880","#0a720a","#0a680a"]}}}},
{"data":{"name":"tr3"},"mark":{"type":"line","strokeWidth":6.5,"strokeCap":"butt","strokeJoin":"round"},"encoding":{"detail":{"field":"s"},"color":{"field":"c","type":"nominal","legend":null,"scale":{"domain":["VIN","EN","VOUT","PGOOD","IOUT"],"range":["#0616b0","#b014ae","#1cb4be","#0ea80e","#0ea80e"]}}}},
{"data":{"name":"tr3"},"mark":{"type":"line","strokeWidth":2.5,"strokeCap":"butt","strokeJoin":"round"},"encoding":{"detail":{"field":"s"},"color":{"field":"c","type":"nominal","legend":null,"scale":{"domain":["VIN","EN","VOUT","PGOOD","IOUT"],"range":["#1428e0","#e22ade","#3adae4","#1ccc1c","#1ccc1c"]}}}},
{"data":{"name":"ed3"},"mark":{"type":"rule","strokeWidth":1.5},"encoding":{"x2":{"field":"x2"},"y2":{"field":"y2"},"color":{"field":"c","type":"nominal","legend":null,"scale":{"domain":["VIN","EN","VOUT","PGOOD","IOUT"],"range":["#0616b0","#b014ae","#1cb4be","#0ea80e","#0ea80e"]}}}},
{"data":{"name":"lb3"},"mark":{"type":"text","font":"Liberation Sans","fontSize":17,"align":"left","baseline":"alphabetic","color":"#111111"},"encoding":{"text":{"field":"t"}}},
{"data":{"name":"ls3"},"mark":{"type":"text","font":"Liberation Sans","fontSize":12,"align":"left","baseline":"alphabetic","color":"#111111"},"encoding":{"text":{"field":"t"}}},
{"data":{"name":"mk3"},"mark":{"type":"point","shape":"M-1,-0.75L0.3,-0.75L1,0L0.3,0.75L-1,0.75Z","size":225,"filled":true,"opacity":1,"strokeWidth":1,"xOffset":-9},"encoding":{"fill":{"field":"c","type":"nominal","legend":null,"scale":{"domain":["VIN","EN","VOUT","PGOOD","IOUT"],"range":["#eef0ff","#fdf0fd","#38c8da","#effcef","#effcef"]}},"stroke":{"field":"c","type":"nominal","legend":null,"scale":{"domain":["VIN","EN","VOUT","PGOOD","IOUT"],"range":["#3040f0","#c030c0","#38c8da","#2ca02c","#2ca02c"]}}}},
{"data":{"name":"mk3"},"mark":{"type":"text","font":"Liberation Sans","fontSize":12,"fontWeight":"bold","align":"center","baseline":"middle","dx":-11},"encoding":{"text":{"field":"n"},"color":{"field":"c","type":"nominal","legend":null,"scale":{"domain":["VIN","EN","VOUT","PGOOD","IOUT"],"range":["#2030ee","#c020c0","#ffffff","#20a020","#20a020"]}}}},
{"data":{"name":"tc"},"mark":{"type":"point","shape":"triangle-down","size":55,"filled":true,"opacity":1,"color":"#f39a1e","yOffset":3}},
{"data":{"name":"tg3"},"mark":{"type":"point","shape":"M-0.75,-1L0.75,-1L0.75,0.55L0,1L-0.75,0.55Z","size":196,"filled":true,"opacity":1,"color":"#f39a1e","yOffset":12.5}},
{"data":{"name":"tg3"},"mark":{"type":"text","text":"T","font":"Liberation Sans","fontSize":11,"fontWeight":"bold","color":"#ffffff","align":"center","baseline":"middle","dy":11.5}},
{"data":{"name":"bx3"},"mark":{"type":"rect","filled":false,"color":"#4a4a4a","strokeWidth":1,"cornerRadius":6},"encoding":{"x2":{"field":"x2"},"y2":{"field":"y2"}}},
{"data":{"name":"bg3"},"mark":{"type":"point","shape":"M-0.5,-0.55L0.5,-0.55A0.55,0.55,0,0,1,0.5,0.55L-0.5,0.55A0.55,0.55,0,0,1,-0.5,-0.55Z","size":529,"filled":true,"opacity":1},"encoding":{"color":{"field":"c","type":"nominal","legend":null,"scale":{"domain":["VIN","EN","VOUT","PGOOD","IOUT"],"range":["#1a2ef2","#a0149e","#30d8e2","#14a014","#14a014"]}}}},
{"data":{"name":"bg3"},"mark":{"type":"text","font":"Liberation Sans","fontSize":12,"fontWeight":"bold","color":"#000000","align":"center","baseline":"middle"},"encoding":{"text":{"field":"n"}}},
{"data":{"name":"it3"},"mark":{"type":"text","font":"Liberation Sans","fontSize":12,"align":"left","baseline":"middle"},"encoding":{"text":{"field":"t"},"color":{"field":"c","type":"nominal","legend":null,"scale":{"domain":["VIN","EN","VOUT","PGOOD","IOUT","K","T"],"range":["#2e4cff","#c83cc8","#22d2dc","#38b838","#38b838","#1e1e1e","#f59e1c"]}}}},
{"data":{"name":"ib3"},"mark":{"type":"point","shape":"square","size":100,"filled":true,"opacity":1,"color":"#f39a1e"}},
{"data":{"name":"ib3"},"mark":{"type":"text","text":"T","font":"Liberation Sans","fontSize":9,"fontWeight":"bold","color":"#ffffff","align":"center","baseline":"middle"}},
{"data":{"name":"cap3"},"mark":{"type":"text","font":"Liberation Sans","fontSize":21,"align":"left","baseline":"alphabetic","color":"#000000"},"encoding":{"text":{"field":"t"}}},
{"data":{"name":"cs3"},"mark":{"type":"text","font":"Liberation Sans","fontSize":14,"align":"left","baseline":"alphabetic","color":"#000000"},"encoding":{"text":{"field":"t"}}},
{"data":{"name":"bd3"},"mark":{"type":"text","font":"Liberation Sans, Noto Sans CJK JP","fontSize":26,"fontWeight":"bold","align":"center","baseline":"alphabetic","color":"#000000"},"encoding":{"text":{"field":"t"}}}
]
}
]
}
